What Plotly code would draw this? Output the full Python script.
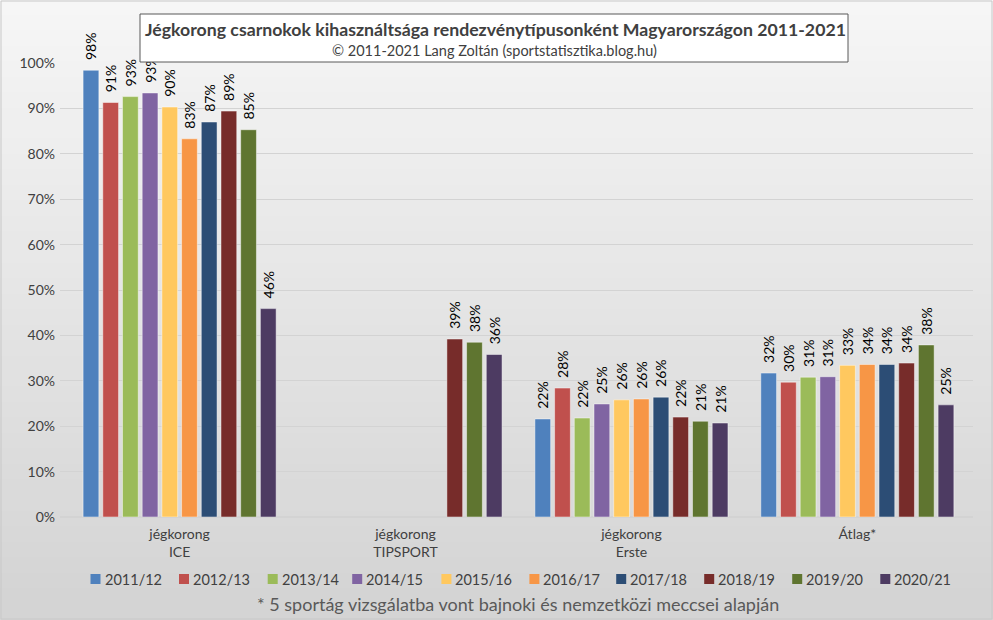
import plotly.graph_objects as go

categories = ["jégkorong<br>ICE", "jégkorong<br>TIPSPORT", "jégkorong<br>Erste", "Átlag*"]
seasons = ["2011/12", "2012/13", "2013/14", "2014/15", "2015/16",
           "2016/17", "2017/18", "2018/19", "2019/20", "2020/21"]
colors = ["#4F81BD", "#C0504D", "#9BBB59", "#8064A2", "#FFC85F",
          "#F79646", "#2C4D75", "#772C2A", "#5F7530", "#4D3B62"]

# values in % per season: [ICE, TIPSPORT, Erste, Átlag]
v_2011_12 = [98.4, None, 21.6, 31.7]
v_2012_13 = [91.3, None, 28.4, 29.7]
v_2013_14 = [92.6, None, 21.8, 30.8]
v_2014_15 = [93.4, None, 24.9, 30.9]
v_2015_16 = [90.3, None, 25.8, 33.4]
v_2016_17 = [83.3, None, 26.0, 33.6]
v_2017_18 = [87.0, None, 26.4, 33.6]
v_2018_19 = [89.4, 39.2, 22.0, 33.9]
v_2019_20 = [85.3, 38.5, 21.1, 37.9]
v_2020_21 = [45.9, 35.8, 20.7, 24.7]
values = [v_2011_12, v_2012_13, v_2013_14, v_2014_15, v_2015_16,
          v_2016_17, v_2017_18, v_2018_19, v_2019_20, v_2020_21]

FONT = "Lato"
L, R, T, B = 60, 20, 63, 103
PW, PH = 993 - L - R, 620 - T - B

def px(x):
    return (x - L) / PW

def py(y):
    return (620 - B - y) / PH

fig = go.Figure()
for s, c, vals in zip(seasons, colors, values):
    ys = [None if v is None else v / 100 for v in vals]
    txt = ["" if v is None else "\u00a0\u00a0" + f"{round(v):d}%" for v in vals]
    fig.add_trace(go.Bar(
        name=s, x=categories, y=ys, marker_color=c,
        marker_line=dict(color="rgba(255,255,255,0.45)", width=1),
        text=txt, textposition="outside", textangle=-90,
        textfont=dict(family=FONT, size=14, color="#000000"),
        cliponaxis=False, showlegend=False,
    ))

# background gradient (decorative)
shapes = []
n = 40
top, bot = py(0), py(620)
for i in range(n):
    f = i / (n - 1)
    g = int(246 - (246 - 212) * f)
    y1 = top - (top - bot) * i / n
    y0 = top - (top - bot) * (i + 1) / n
    shapes.append(dict(type="rect", xref="paper", yref="paper",
                       x0=px(0), x1=px(993), y0=y0, y1=y1 + 0.002,
                       fillcolor=f"rgb({g},{g},{g})", line=dict(width=0), layer="below"))
# outer frame
shapes.append(dict(type="rect", xref="paper", yref="paper",
                   x0=px(1), x1=px(992), y0=py(619), y1=py(1),
                   fillcolor="rgba(0,0,0,0)", line=dict(color="#c8c8c8", width=1), layer="below"))
# title box
shapes.append(dict(type="rect", xref="paper", yref="paper",
                   x0=px(140), x1=px(848), y0=py(62), y1=py(14),
                   fillcolor="white", line=dict(color="#595959", width=1), layer="above"))

annotations = [
    dict(text="<b>Jégkorong csarnokok kihasználtsága rendezvénytípusonként Magyarországon 2011-2021</b>",
         xref="paper", yref="paper", x=px(495), y=py(29),
         showarrow=False, font=dict(family=FONT, size=17.7, color="#404040"), yanchor="middle"),
    dict(text="© 2011-2021 Lang Zoltán (sportstatisztika.blog.hu)",
         xref="paper", yref="paper", x=px(494), y=py(50),
         showarrow=False, font=dict(family=FONT, size=14.5, color="#404040"), yanchor="middle"),
    dict(text="* 5 sportág vizsgálatba vont bajnoki és nemzetközi meccsei alapján",
         xref="paper", yref="paper", x=px(518), y=py(604),
         showarrow=False, font=dict(family=FONT, size=18, color="#595959"), yanchor="middle"),
]

# legend (drawn as small squares + labels, like the original)
legend_x = [90.5, 179, 267.7, 352.2, 441.4, 529.4, 616.2, 704.2, 792.2, 880.3]
for s, c, lx in zip(seasons, colors, legend_x):
    shapes.append(dict(type="rect", xref="paper", yref="paper",
                       x0=px(lx), x1=px(lx + 10), y0=py(584), y1=py(574),
                       fillcolor=c, line=dict(width=0), layer="above"))
    annotations.append(dict(text=s, xref="paper", yref="paper", x=px(lx + 12), y=py(579),
                            xanchor="left", yanchor="middle", showarrow=False,
                            font=dict(family=FONT, size=14.5, color="#404040")))

fig.update_layout(
    width=993, height=620,
    margin=dict(l=L, r=R, t=T, b=B, autoexpand=False),
    paper_bgcolor="#e6e6e6", plot_bgcolor="rgba(0,0,0,0)",
    barmode="group", bargap=0.128, bargroupgap=0.2,
    uniformtext=dict(minsize=14, mode="show"),
    font=dict(family=FONT, color="#404040"),
    shapes=shapes,
    showlegend=False,
    annotations=annotations,
)
fig.update_yaxes(range=[0, 1.0], tickformat=".0%", dtick=0.1, automargin=False,
                 gridcolor="#d3d3d3", gridwidth=1, zeroline=True, zerolinecolor="#d3d3d3",
                 tickfont=dict(family=FONT, size=14, color="#404040"), ticks="",
                 ticklabelstandoff=4, fixedrange=True)
fig.update_xaxes(range=[-0.5295, 3.512], tickfont=dict(family=FONT, size=14, color="#404040"),
                 showline=False, ticks="", automargin=False, ticklabelstandoff=7)

fig.write_html("out.html", config={"displayModeBar": False},
               post_script="document.body.style.margin='0';document.body.style.overflow='hidden';")
